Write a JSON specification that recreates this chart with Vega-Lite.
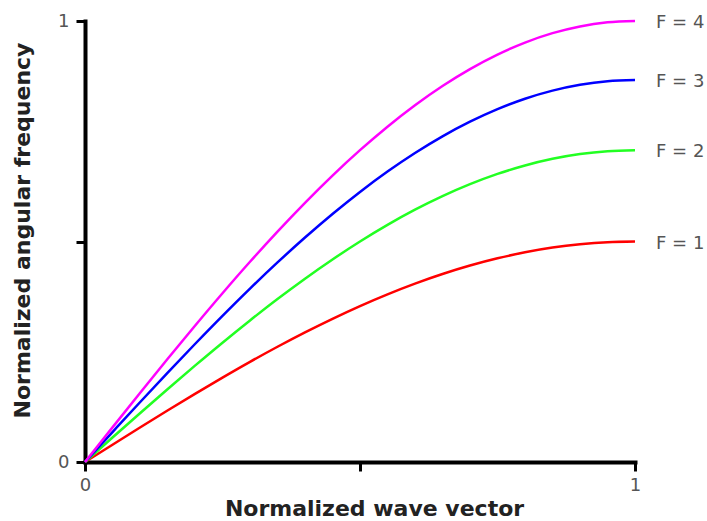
{
  "$schema": "https://vega.github.io/schema/vega-lite/v6.json",
  "width": 550,
  "height": 441,
  "autosize": "none",
  "padding": {"left": 85, "top": 21, "right": 72, "bottom": 59},
  "background": "white",
  "config": {
    "view": {"stroke": null},
    "axis": {
      "grid": false,
      "domainColor": "black",
      "domainWidth": 4,
      "domainCap": "square",
      "tickColor": "black",
      "tickWidth": 3,
      "tickSize": 9,
      "labelFont": "DejaVu Sans",
      "labelFontSize": 18,
      "labelColor": "#555555",
      "labelFlush": false,
      "labelOverlap": false,
      "titleFont": "DejaVu Sans",
      "titleFontSize": 22,
      "titleFontWeight": "bold",
      "titleColor": "#222222"
    }
  },
  "data": {
    "values": [
      {"F": "F = 1", "k": 0, "w": 0},
      {"F": "F = 1", "k": 0.05, "w": 0.0392},
      {"F": "F = 1", "k": 0.1, "w": 0.0782},
      {"F": "F = 1", "k": 0.15, "w": 0.1167},
      {"F": "F = 1", "k": 0.2, "w": 0.1545},
      {"F": "F = 1", "k": 0.25, "w": 0.1913},
      {"F": "F = 1", "k": 0.3, "w": 0.227},
      {"F": "F = 1", "k": 0.35, "w": 0.2613},
      {"F": "F = 1", "k": 0.4, "w": 0.2939},
      {"F": "F = 1", "k": 0.45, "w": 0.3247},
      {"F": "F = 1", "k": 0.5, "w": 0.3536},
      {"F": "F = 1", "k": 0.55, "w": 0.3802},
      {"F": "F = 1", "k": 0.6, "w": 0.4045},
      {"F": "F = 1", "k": 0.65, "w": 0.4263},
      {"F": "F = 1", "k": 0.7, "w": 0.4455},
      {"F": "F = 1", "k": 0.75, "w": 0.4619},
      {"F": "F = 1", "k": 0.8, "w": 0.4755},
      {"F": "F = 1", "k": 0.85, "w": 0.4862},
      {"F": "F = 1", "k": 0.9, "w": 0.4938},
      {"F": "F = 1", "k": 0.95, "w": 0.4985},
      {"F": "F = 1", "k": 1, "w": 0.5},
      {"F": "F = 2", "k": 0, "w": 0},
      {"F": "F = 2", "k": 0.05, "w": 0.0555},
      {"F": "F = 2", "k": 0.1, "w": 0.1106},
      {"F": "F = 2", "k": 0.15, "w": 0.1651},
      {"F": "F = 2", "k": 0.2, "w": 0.2185},
      {"F": "F = 2", "k": 0.25, "w": 0.2706},
      {"F": "F = 2", "k": 0.3, "w": 0.321},
      {"F": "F = 2", "k": 0.35, "w": 0.3695},
      {"F": "F = 2", "k": 0.4, "w": 0.4156},
      {"F": "F = 2", "k": 0.45, "w": 0.4592},
      {"F": "F = 2", "k": 0.5, "w": 0.5},
      {"F": "F = 2", "k": 0.55, "w": 0.5377},
      {"F": "F = 2", "k": 0.6, "w": 0.5721},
      {"F": "F = 2", "k": 0.65, "w": 0.6029},
      {"F": "F = 2", "k": 0.7, "w": 0.63},
      {"F": "F = 2", "k": 0.75, "w": 0.6533},
      {"F": "F = 2", "k": 0.8, "w": 0.6725},
      {"F": "F = 2", "k": 0.85, "w": 0.6876},
      {"F": "F = 2", "k": 0.9, "w": 0.6984},
      {"F": "F = 2", "k": 0.95, "w": 0.7049},
      {"F": "F = 2", "k": 1, "w": 0.7071},
      {"F": "F = 3", "k": 0, "w": 0},
      {"F": "F = 3", "k": 0.05, "w": 0.0679},
      {"F": "F = 3", "k": 0.1, "w": 0.1355},
      {"F": "F = 3", "k": 0.15, "w": 0.2022},
      {"F": "F = 3", "k": 0.2, "w": 0.2676},
      {"F": "F = 3", "k": 0.25, "w": 0.3314},
      {"F": "F = 3", "k": 0.3, "w": 0.3932},
      {"F": "F = 3", "k": 0.35, "w": 0.4525},
      {"F": "F = 3", "k": 0.4, "w": 0.509},
      {"F": "F = 3", "k": 0.45, "w": 0.5624},
      {"F": "F = 3", "k": 0.5, "w": 0.6124},
      {"F": "F = 3", "k": 0.55, "w": 0.6585},
      {"F": "F = 3", "k": 0.6, "w": 0.7006},
      {"F": "F = 3", "k": 0.65, "w": 0.7384},
      {"F": "F = 3", "k": 0.7, "w": 0.7716},
      {"F": "F = 3", "k": 0.75, "w": 0.8001},
      {"F": "F = 3", "k": 0.8, "w": 0.8237},
      {"F": "F = 3", "k": 0.85, "w": 0.8421},
      {"F": "F = 3", "k": 0.9, "w": 0.8554},
      {"F": "F = 3", "k": 0.95, "w": 0.8634},
      {"F": "F = 3", "k": 1, "w": 0.866},
      {"F": "F = 4", "k": 0, "w": 0},
      {"F": "F = 4", "k": 0.05, "w": 0.0785},
      {"F": "F = 4", "k": 0.1, "w": 0.1564},
      {"F": "F = 4", "k": 0.15, "w": 0.2334},
      {"F": "F = 4", "k": 0.2, "w": 0.309},
      {"F": "F = 4", "k": 0.25, "w": 0.3827},
      {"F": "F = 4", "k": 0.3, "w": 0.454},
      {"F": "F = 4", "k": 0.35, "w": 0.5225},
      {"F": "F = 4", "k": 0.4, "w": 0.5878},
      {"F": "F = 4", "k": 0.45, "w": 0.6495},
      {"F": "F = 4", "k": 0.5, "w": 0.7071},
      {"F": "F = 4", "k": 0.55, "w": 0.7604},
      {"F": "F = 4", "k": 0.6, "w": 0.809},
      {"F": "F = 4", "k": 0.65, "w": 0.8526},
      {"F": "F = 4", "k": 0.7, "w": 0.891},
      {"F": "F = 4", "k": 0.75, "w": 0.9239},
      {"F": "F = 4", "k": 0.8, "w": 0.9511},
      {"F": "F = 4", "k": 0.85, "w": 0.9724},
      {"F": "F = 4", "k": 0.9, "w": 0.9877},
      {"F": "F = 4", "k": 0.95, "w": 0.9969},
      {"F": "F = 4", "k": 1, "w": 1}
    ]
  },
  "encoding": {
    "x": {
      "field": "k",
      "type": "quantitative",
      "scale": {"domain": [0, 1], "nice": false, "zero": false},
      "axis": {
        "title": "Normalized wave vector",
        "values": [0, 0.5, 1],
        "labelExpr": "datum.value == 0.5 ? '' : format(datum.value, 'd')",
        "labelPadding": 5,
        "titleX": 289,
        "titleY": 53,
        "titleAlign": "center",
        "titleBaseline": "alphabetic"
      }
    },
    "y": {
      "field": "w",
      "type": "quantitative",
      "scale": {"domain": [0, 1], "nice": false, "zero": false},
      "axis": {
        "title": "Normalized angular frequency",
        "values": [0, 0.5, 1],
        "labelExpr": "datum.value == 0.5 ? '' : format(datum.value, 'd')",
        "labelPadding": 7,
        "titleX": -56,
        "titleY": 209,
        "titleAngle": -90,
        "titleAlign": "center",
        "titleBaseline": "alphabetic"
      }
    }
  },
  "layer": [
    {
      "mark": {"type": "line", "strokeWidth": 2.5, "interpolate": "monotone"},
      "encoding": {
        "color": {
          "field": "F",
          "type": "nominal",
          "scale": {
            "domain": ["F = 1", "F = 2", "F = 3", "F = 4"],
            "range": ["#ff0000", "#22ff22", "#0000ff", "#ff00ff"]
          },
          "legend": null
        }
      }
    },
    {
      "transform": [{"filter": "datum.k == 1"}],
      "mark": {
        "type": "text",
        "align": "left",
        "baseline": "middle",
        "dx": 21,
        "dy": 2,
        "font": "DejaVu Sans",
        "fontSize": 18,
        "color": "#555555"
      },
      "encoding": {
        "text": {"field": "F", "type": "nominal"}
      }
    }
  ]
}
